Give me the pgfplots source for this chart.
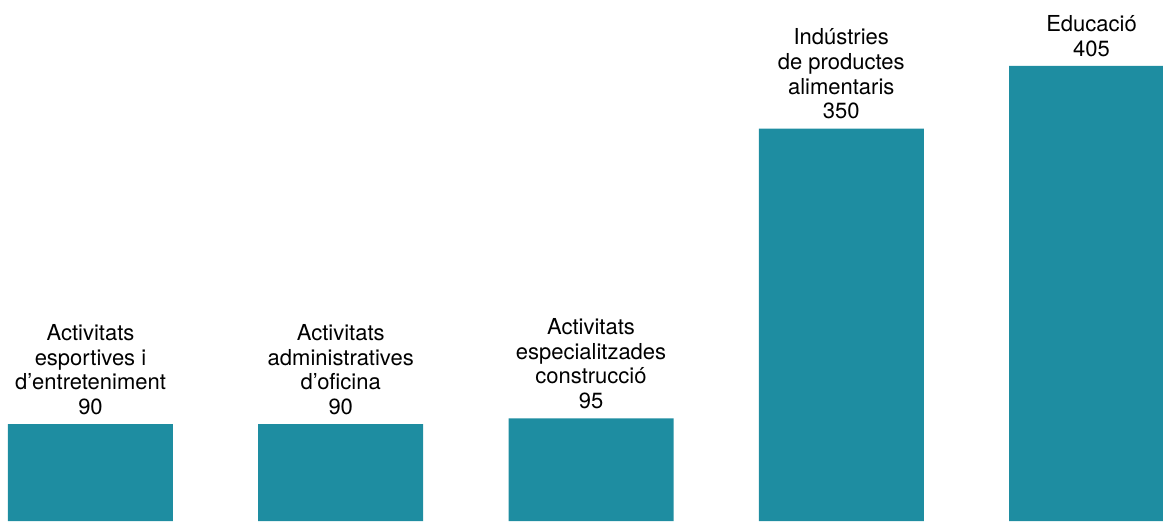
\documentclass[border=0pt]{standalone}
\usepackage{fontspec}
\setmainfont{TeX Gyre Heros}
\usepackage{pgfplots}
\pgfplotsset{compat=1.18}
\definecolor{barblue}{HTML}{1E8DA1}
\begin{document}
\begin{tikzpicture}
\begin{axis}[
    width=581.5pt, height=260.5pt,
    scale only axis,
    hide axis,
    xmin=-0.3616, xmax=4.2857,
    ymin=4.66, ymax=463.07,
    ybar, bar width=82.5pt,
    nodes near coords,
    point meta=explicit symbolic,
    every node near coord/.append style={
        font=\fontsize{11}{12.3}\selectfont,
        align=center, anchor=south, inner sep=0pt, yshift=4.5pt, text=black},
  ]
  \addplot[fill=barblue, draw=none] coordinates {
    (0,90)  [Activitats\\esportives i\\d’entreteniment\\90]
    (1,90)  [Activitats\\administratives\\d’oficina\\90]
    (2,95)  [Activitats\\especialitzades\\construcció\\95]
    (3,350) [Indústries\\de productes\\alimentaris\\350]
    (4,405) [Educació\\405]
  };
  \coordinate (sw) at (rel axis cs:0,0);
  \coordinate (ne) at (rel axis cs:1,1);
\end{axis}
\pgfresetboundingbox
\path[use as bounding box] (sw) rectangle (ne);
\end{tikzpicture}
\end{document}
